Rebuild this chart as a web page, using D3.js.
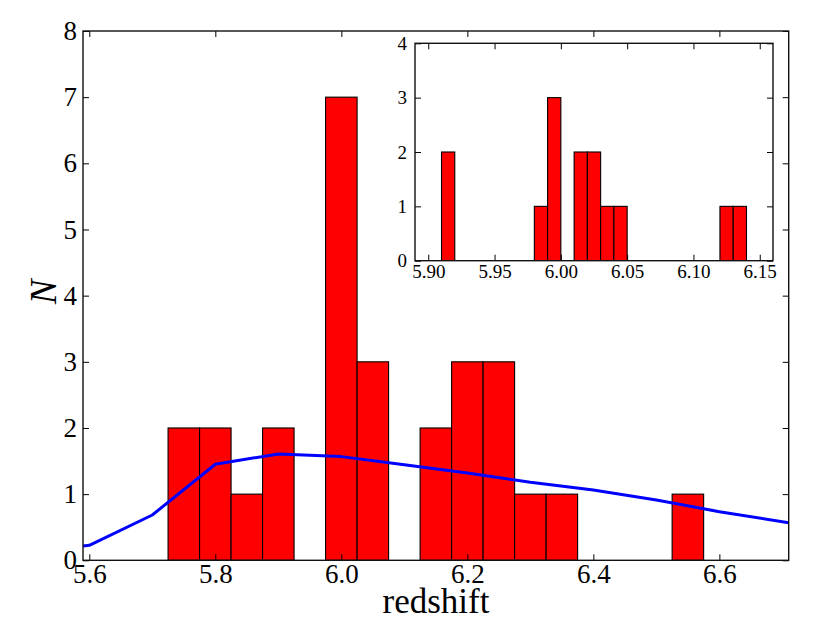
<!DOCTYPE html>
<html><head><meta charset="utf-8">
<script src="https://cdn.jsdelivr.net/npm/d3@7"></script>
<style>body{margin:0;background:#fff}svg{display:block}text{font-family:"Liberation Serif","DejaVu Serif",serif;fill:#000}</style>
</head><body>
<svg id="c" width="830" height="623"></svg>
<script>
// ---- data ----
const mainBinLefts = [5.725, 5.775, 5.825, 5.875, 5.975, 6.025, 6.125, 6.175, 6.225, 6.275, 6.325, 6.525];
const mainCounts   = [2, 2, 1, 2, 7, 3, 2, 3, 3, 1, 1, 1];
const mainBinWidth = 0.05;
const curveX = [5.59, 5.6, 5.7, 5.8, 5.9, 6.0, 6.1, 6.2, 6.3, 6.4, 6.5, 6.6, 6.71];
const curveY = [0.216, 0.227, 0.685, 1.452, 1.608, 1.567, 1.445, 1.319, 1.179, 1.063, 0.912, 0.735, 0.569];
const mainXTicks = [5.6, 5.8, 6.0, 6.2, 6.4, 6.6];
const mainYTicks = [0, 1, 2, 3, 4, 5, 6, 7, 8];
const insetBinLefts = [5.91, 5.98, 5.99, 6.01, 6.02, 6.03, 6.04, 6.12, 6.13];
const insetCounts   = [2, 1, 3, 2, 2, 1, 1, 1, 1];
const insetBinWidth = 0.01;
const insetXTicks = [5.90, 5.95, 6.00, 6.05, 6.10, 6.15];
const insetYTicks = [0, 1, 2, 3, 4];

const svg = d3.select("#c");

function panel(o) {
  const x = d3.scaleLinear().domain(o.xd).range([o.l, o.r]);
  const y = d3.scaleLinear().domain(o.yd).range([o.b, o.t]);
  const g = svg.append("g");
  g.append("rect").attr("x", o.l).attr("y", o.t).attr("width", o.r - o.l).attr("height", o.b - o.t).attr("fill", "#fff");
  const cid = "clip" + Math.round(o.l);
  svg.append("clipPath").attr("id", cid).append("rect")
    .attr("x", o.l).attr("y", o.t).attr("width", o.r - o.l).attr("height", o.b - o.t);
  const plot = g.append("g").attr("clip-path", `url(#${cid})`);
  plot.selectAll("rect.bar").data(o.lefts.map((d, i) => ({ x0: d, c: o.counts[i] })))
    .join("rect").attr("class", "bar")
    .attr("x", d => x(d.x0)).attr("width", d => x(d.x0 + o.bw) - x(d.x0))
    .attr("y", d => y(d.c)).attr("height", d => y(0) - y(d.c))
    .attr("fill", "#ff0000").attr("stroke", "#000").attr("stroke-width", 1.1);
  if (o.cx) {
    plot.append("path").datum(o.cx.map((v, i) => [v, o.cy[i]]))
      .attr("d", d3.line().x(d => x(d[0])).y(d => y(d[1])))
      .attr("fill", "none").attr("stroke", "#0000ff").attr("stroke-width", 3).attr("stroke-linejoin", "round");
  }
  const tl = 6;
  const fmtX = o.fmtX, fmtY = d3.format("d");
  // bottom axis
  const ab = g.append("g").attr("transform", `translate(0,${o.b})`)
    .call(d3.axisBottom(x).tickValues(o.xt).tickSize(-tl).tickPadding(o.xpad).tickFormat(fmtX));
  const at = g.append("g").attr("transform", `translate(0,${o.t})`)
    .call(d3.axisTop(x).tickValues(o.xt).tickSize(-tl).tickFormat(""));
  const al = g.append("g").attr("transform", `translate(${o.l},0)`)
    .call(d3.axisLeft(y).tickValues(o.yt).tickSize(-tl).tickPadding(o.ypad).tickFormat(fmtY));
  const ar = g.append("g").attr("transform", `translate(${o.r},0)`)
    .call(d3.axisRight(y).tickValues(o.yt).tickSize(-tl).tickFormat(""));
  [ab, at, al, ar].forEach(a => {
    a.select(".domain").remove();
    a.selectAll("line").attr("stroke", "#000").attr("stroke-width", 1);
    a.selectAll("text").style("font-size", o.fs + "px").attr("fill", "#000");
  });
  g.append("rect").attr("x", o.l).attr("y", o.t).attr("width", o.r - o.l).attr("height", o.b - o.t)
    .attr("fill", "none").attr("stroke", "#111").attr("stroke-width", 1.4);
  return { x, y, g };
}

panel({ l: 83, r: 788.7, t: 31, b: 560.3, xd: [5.59, 6.71], yd: [0, 8],
  lefts: mainBinLefts, counts: mainCounts, bw: mainBinWidth, cx: curveX, cy: curveY,
  xt: mainXTicks, yt: mainYTicks, fmtX: d3.format(".1f"), fs: 27, xpad: 4, ypad: 6 });

panel({ l: 415, r: 773, t: 43.3, b: 260.7, xd: [5.89, 6.16], yd: [0, 4],
  lefts: insetBinLefts, counts: insetCounts, bw: insetBinWidth,
  xt: insetXTicks, yt: insetYTicks, fmtX: d3.format(".2f"), fs: 19, xpad: 4, ypad: 8 });

svg.append("text").attr("x", 436).attr("y", 613).attr("text-anchor", "middle")
  .style("font-size", "35px").text("redshift");
svg.append("text").attr("transform", "translate(56,292) rotate(-90)").attr("text-anchor", "middle")
  .style("font-size", "37px").style("font-style", "italic").text("N");
</script>
</body></html>
